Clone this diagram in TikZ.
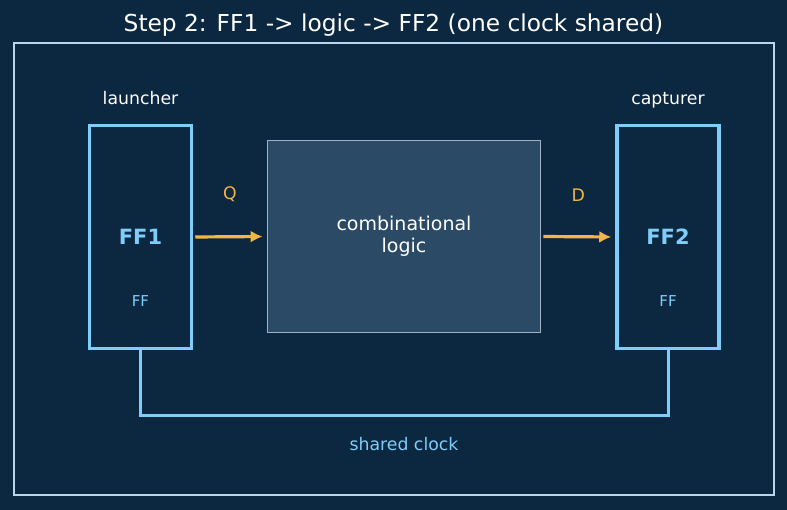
\documentclass[tikz,border=0pt]{standalone}
\usepackage{fontspec}
\setmainfont{DejaVu Sans}
\usetikzlibrary{arrows.meta}
\definecolor{bgnavy}{HTML}{0C2740}
\definecolor{framecol}{HTML}{B9D6EA}
\definecolor{ffblue}{HTML}{7FCDFA}
\definecolor{logicfill}{HTML}{2A4A65}
\definecolor{logicline}{HTML}{9FB2C4}
\definecolor{sigorange}{HTML}{F5B445}
\tikzset{
  ffbox/.style={draw=ffblue,line width=3.5pt,fill=bgnavy,minimum width=102pt,minimum height=223pt,
    text=ffblue,font=\fontsize{21}{24}\selectfont\bfseries},
  logicbox/.style={draw=logicline,line width=1.8pt,fill=logicfill,minimum width=273pt,minimum height=192pt,
    text=white,align=center,font=\fontsize{19}{22}\selectfont},
  tag/.style={text=white,font=\fontsize{17.3}{20}\selectfont,anchor=base},
  kind/.style={text=ffblue,font=\fontsize{15}{18}\selectfont},
  pin/.style={text=sigorange,font=\fontsize{17.3}{20}\selectfont},
  sig/.style={draw=sigorange,line width=3.2pt,-{Latex[length=12pt,width=12pt]}},
  clk/.style={draw=ffblue,line width=3pt}
}
\begin{document}
\begin{tikzpicture}[x=1pt,y=-1pt]
    \fill[bgnavy] (0,0) rectangle (787,510);
    \useasboundingbox (0,0) rectangle (787,510);
    \node (title) at (393.5,31.5) [anchor=base,text=white,font=\fontsize{23.3}{27}\selectfont] {Step 2: FF1 -> logic -> FF2 (one clock shared)};
    \draw[framecol,line width=1.8pt] (14,43) rectangle (774,495);
    % flip-flops and the logic between them
    \node (ff1) at (140.5,237) [ffbox] {FF1};
    \node (ff2) at (668,237) [ffbox] {FF2};
    \node (logic) at (404,236.5) [logicbox] {combinational\\logic};
    \node (ff1kind) at (140.5,301) [kind] {FF};
    \node (ff2kind) at (668,301) [kind] {FF};
    \node (ff1tag) at (140.5,105) [tag] {launcher};
    \node (ff2tag) at (668,105) [tag] {capturer};
    % data path
    \draw[sig,shorten <=2pt,shorten >=4pt] (ff1.east) -- (logic.west) node (q) [pin,midway,above=30pt] {Q};
    \draw[sig,shorten <=2pt,shorten >=4pt] (logic.east) -- (ff2.west) node (d) [pin,midway,above=30pt] {D};
    % clock
    \draw[clk] (ff1.south) -- ++(0,65) -| (ff2.south);
    \node (clktag) at (404,444) [kind,font=\fontsize{17.3}{20}\selectfont] {shared clock};
\end{tikzpicture}
\end{document}
